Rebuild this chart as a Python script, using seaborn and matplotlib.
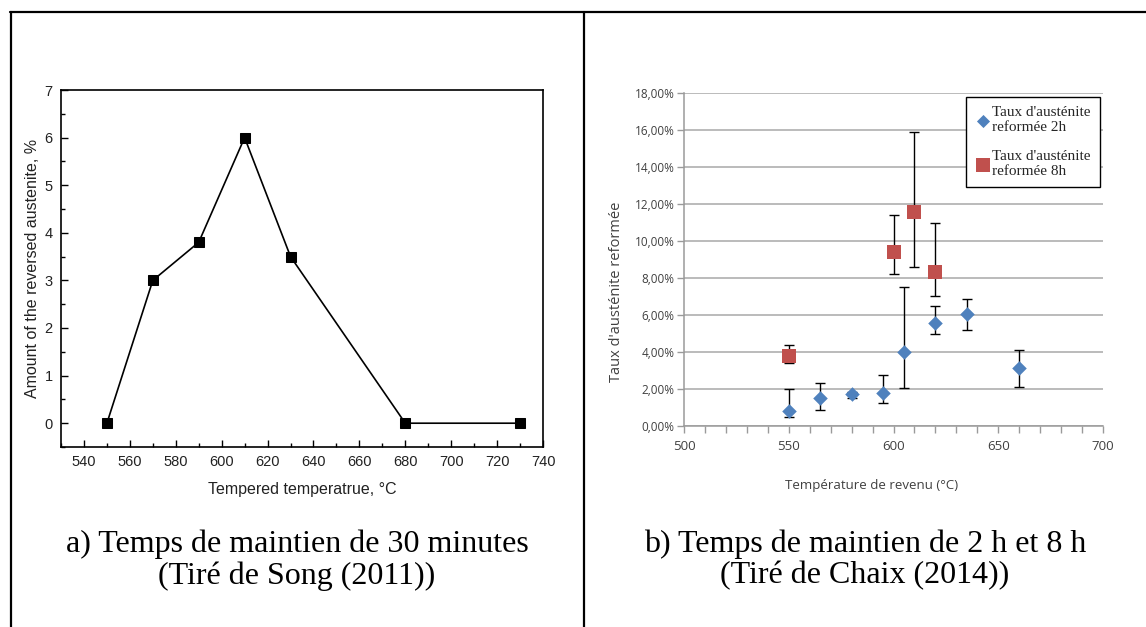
import matplotlib
matplotlib.use("Agg")
import matplotlib.pyplot as plt
import seaborn as sns
import numpy as np
import pandas as pd
from matplotlib.ticker import MultipleLocator, FuncFormatter
from matplotlib.lines import Line2D

# ---------------- data ----------------
# (a) Song (2011), 30 min
temp_a = [550, 570, 590, 610, 630, 680, 730]
amount_a = [0.0, 3.0, 3.8, 6.0, 3.5, 0.0, 0.0]

# (b) Chaix (2014), 2 h
temp_2h = [550, 565, 580, 595, 605, 620, 635, 660]
taux_2h = [0.79, 1.52, 1.73, 1.77, 4.02, 5.56, 6.04, 3.16]
low_2h = [0.50, 0.87, 1.50, 1.24, 2.07, 4.96, 5.21, 2.13]
high_2h = [1.98, 2.31, 1.86, 2.74, 7.54, 6.46, 6.84, 4.11]

# (b) Chaix (2014), 8 h
temp_8h = [550, 600, 610, 620]
taux_8h = [3.81, 9.42, 11.56, 8.33]
low_8h = [3.41, 8.23, 8.59, 7.05]
high_8h = [4.37, 11.40, 15.91, 10.98]

label_2h = "Taux d'austénite\nreformée 2h"
label_8h = "Taux d'austénite\nreformée 8h"
caption_a = "a) Temps de maintien de 30 minutes\n(Tiré de Song (2011))"
caption_b = "b) Temps de maintien de 2 h et 8 h\n(Tiré de Chaix (2014))"

# ---------------- figure ----------------
sns.set_style("white")
plt.rcParams['font.family'] = ['Liberation Sans', 'DejaVu Sans']

W, H = 1146, 627
fig = plt.figure(figsize=(W / 100, H / 100), dpi=100)
fig.patch.set_facecolor("white")


def fbox(x0, y0, x1, y1):
    return [x0 / W, 1 - y1 / H, (x1 - x0) / W, (y1 - y0) / H]


# table borders
lw_tab = 1.6
fig.add_artist(Line2D([10 / W, 1], [1 - 12 / H, 1 - 12 / H], color="black", lw=lw_tab))
fig.add_artist(Line2D([11 / W, 11 / W], [0, 1 - 12 / H], color="black", lw=lw_tab))
fig.add_artist(Line2D([583.5 / W, 583.5 / W], [0, 1 - 12 / H], color="black", lw=lw_tab))

# ---------------- panel a ----------------
axa = fig.add_axes(fbox(61, 90, 543, 447))
df_a = pd.DataFrame({"T": temp_a, "A": amount_a})
sns.lineplot(data=df_a, x="T", y="A", ax=axa, color="black", lw=1.2,
             marker="s", markersize=6.5, markeredgecolor="black",
             markerfacecolor="black")
axa.set_xlim(530, 740)
axa.set_ylim(-0.5, 7)
axa.xaxis.set_major_locator(MultipleLocator(20))
axa.xaxis.set_minor_locator(MultipleLocator(10))
axa.yaxis.set_major_locator(MultipleLocator(1))
axa.yaxis.set_minor_locator(MultipleLocator(0.5))
axa.tick_params(which="both", direction="in", bottom=True, left=True,
                top=False, right=False, color="black", width=1)
axa.tick_params(which="major", length=5, labelsize=10.5, pad=6, labelcolor="#222222")
axa.tick_params(which="minor", length=3)
for s in axa.spines.values():
    s.set_visible(True)
    s.set_color("black")
    s.set_linewidth(1.2)
axa.set_xlabel("Tempered temperatrue, °C", fontsize=11.5, labelpad=9, color="#222222")
axa.set_ylabel("Amount of the reversed austenite, %", fontsize=11.5, labelpad=3, color="#222222")

# ---------------- panel b ----------------
axb = fig.add_axes(fbox(684, 93, 1103, 426))
blue = "#4F81BD"
red = "#C0504D"

yerr_2h = [np.array(taux_2h) - np.array(low_2h), np.array(high_2h) - np.array(taux_2h)]
yerr_8h = [np.array(taux_8h) - np.array(low_8h), np.array(high_8h) - np.array(taux_8h)]
axb.errorbar(temp_2h, taux_2h, yerr=yerr_2h, fmt="none", ecolor="black",
             elinewidth=1, capsize=3.5, capthick=1, zorder=3)
axb.errorbar(temp_8h, taux_8h, yerr=yerr_8h, fmt="none", ecolor="black",
             elinewidth=1, capsize=3.5, capthick=1, zorder=3)

df_2h = pd.DataFrame({"T": temp_2h, "V": taux_2h})
df_8h = pd.DataFrame({"T": temp_8h, "V": taux_8h})
sns.scatterplot(data=df_2h, x="T", y="V", ax=axb, marker="D", s=55, color=blue,
                edgecolor=blue, linewidth=0, zorder=4, label=label_2h)
sns.scatterplot(data=df_8h, x="T", y="V", ax=axb, marker="s", s=110, color=red,
                edgecolor=red, linewidth=0, zorder=4, label=label_8h)

axb.set_xlim(500, 700)
axb.set_ylim(0, 18)
axb.xaxis.set_major_locator(MultipleLocator(50))
axb.xaxis.set_minor_locator(MultipleLocator(10))
axb.yaxis.set_major_locator(MultipleLocator(2))
axb.yaxis.set_major_formatter(FuncFormatter(lambda v, p: f"{v:.2f}%".replace(".", ",")))
axb.grid(axis="y", color="#AFAFAF", lw=1.2, zorder=0)
axb.set_axisbelow(True)
for side in ["top", "right"]:
    axb.spines[side].set_visible(False)
for side in ["left", "bottom"]:
    axb.spines[side].set_color("#9A9A9A")
    axb.spines[side].set_linewidth(1.1)
axb.tick_params(which="both", direction="out", bottom=True, left=True,
                color="#9A9A9A", width=1)
axb.tick_params(which="major", length=5)
axb.tick_params(which="minor", length=5)
axb.tick_params(axis="y", labelsize=8.5, labelcolor="#404040", pad=2)
axb.tick_params(axis="x", labelsize=9.5, labelcolor="#404040", pad=5)
for t in axb.get_xticklabels() + axb.get_yticklabels():
    t.set_fontfamily(["Open Sans", "DejaVu Sans"])
axb.set_xlabel("")
axb.set_ylabel("")
fig.text(872 / W, 1 - 485 / H, "Température de revenu (°C)", ha="center", va="center",
         fontsize=9.5, color="#404040", family=["Open Sans", "DejaVu Sans"])
fig.text(617 / W, 1 - 292 / H, "Taux d'austénite reformée", ha="center", va="center",
         rotation=90, fontsize=10.5, color="#404040", family=["Open Sans", "DejaVu Sans"])

leg = axb.legend(loc="upper right", bbox_to_anchor=(1.01, 1.01), frameon=True,
                 fancybox=False, edgecolor="black", framealpha=1,
                 prop={"family": "Liberation Serif", "size": 11},
                 handletextpad=0.1, handlelength=1.0, labelspacing=1.0,
                 borderpad=0.6, markerscale=0.9)
leg.get_frame().set_linewidth(1.0)

# ---------------- captions ----------------
fig.text(297 / W, 1 - 560 / H, caption_a, ha="center", va="center", fontsize=23,
         family="Liberation Serif", linespacing=1.1, color="black")
fig.text(865 / W, 1 - 560 / H, caption_b, ha="center", va="center", fontsize=23,
         family="Liberation Serif", linespacing=1.1, color="black")

fig.savefig("out.png", dpi=100, facecolor="white")
